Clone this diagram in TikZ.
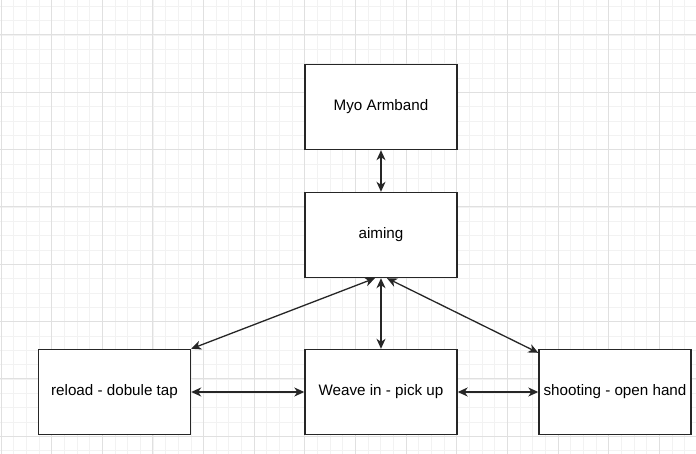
\documentclass[tikz,border=0pt]{standalone}
\usepackage{fontspec}
\setmainfont{Liberation Sans}
\usetikzlibrary{arrows.meta}
\begin{document}
\begin{tikzpicture}[x=1pt, y=-1pt, font=\fontsize{15.2}{18}\selectfont,
    box/.style={draw=black!85, line width=1.4pt, fill=white, minimum width=152pt, minimum height=85pt, inner sep=0pt},
    link/.style={draw=black!85, line width=1.3pt, {Stealth[length=10pt,width=9pt,inset=3pt]}-{Stealth[length=10pt,width=9pt,inset=3pt]}}]
    \useasboundingbox[fill=white] (0, 0) rectangle (696, 454);

    % grid
    \foreach \i in {0,...,55} \draw[black!5, line width=0.8pt] (1+12.66*\i, 0) -- (1+12.66*\i, 454);
    \foreach \i in {0,...,32} \draw[black!5, line width=0.8pt] (0, 6.4+14.33*\i) -- (696, 6.4+14.33*\i);
    \foreach \i in {0,...,13} \draw[black!12, line width=1pt] (1+50.65*\i, 0) -- (1+50.65*\i, 454);
    \foreach \i in {0,...,7} \draw[black!12, line width=1pt] (0, 35+57.3*\i) -- (696, 35+57.3*\i);

    \node[box] (myo) at (381, 107) {Myo Armband};
    \node[box] (aim) at (381, 235) {aiming};
    \node[box] (reload) at (114.5, 392) {reload - dobule tap};
    \node[box] (weave) at (381, 392) {Weave in - pick up};
    \node[box] (shoot) at (615, 392) {shooting - open hand};

    \draw[link] (myo) -- (aim);
    \draw[link] (aim) -- (weave);
    \draw[link] ([xshift=-6pt]aim.south) -- (reload.north east);
    \draw[link] ([xshift=6pt]aim.south) -- ([yshift=-4pt]shoot.north west);
    \draw[link] (reload) -- (weave);
    \draw[link] (weave) -- (shoot);
\end{tikzpicture}
\end{document}
